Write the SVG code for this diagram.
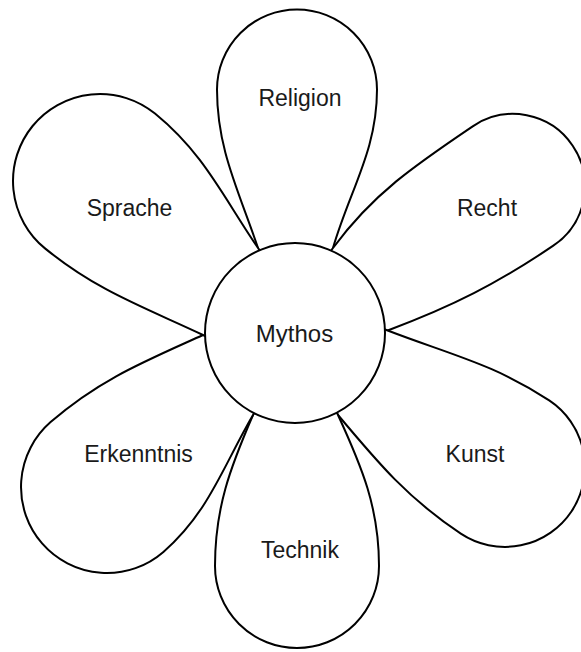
<svg xmlns="http://www.w3.org/2000/svg" width="581" height="652" viewBox="0 0 581 652">
  <style>
    .petal { fill: #ffffff; stroke: #000000; stroke-width: 2; stroke-linejoin: round; }
    .core { fill: #ffffff; stroke: #000000; stroke-width: 2; }
    .lbl { font-family: "Liberation Sans", Arial, Helvetica, sans-serif; font-size: 23px; fill: #1a1a1a; text-anchor: middle; }
    .main { font-size: 24px; }
  </style>
  <rect x="0" y="0" width="581" height="652" fill="#ffffff"/>
  <g id="petal-religion">
    <path class="petal" d="M261.8,259.4 L258,248 C238.8,191 217,149.5 217,89.5 A80,80 0 0 1 297,9.5 A80,80 0 0 1 377,89.5 C377,150.5 350.1,189.4 333,248 L329.6,259.5 Z"/>
    <text class="lbl" x="300" y="106">Religion</text>
  </g>
  <g id="petal-recht">
    <path class="petal" d="M325.9,257.7 L333,248 C373.3,193.2 416.3,164.4 472.7,126.3 A72,72 0 0 1 572.7,145.7 A72,72 0 0 1 553.3,245.7 C496.9,283.8 452.6,306.1 389,330 L377.8,334.2 Z"/>
    <text class="lbl" x="487" y="216">Recht</text>
  </g>
  <g id="petal-kunst">
    <path class="petal" d="M377.8,326.7 L389,331 C449.7,354.3 495.1,364.5 549.2,400.4 A80,80 0 0 1 571.6,511.2 A80,80 0 0 1 460.8,533.6 C408.3,498.8 378.4,463.3 338,415 L330.3,405.8 Z"/>
    <text class="lbl" x="475" y="462">Kunst</text>
  </g>
  <g id="petal-technik">
    <path class="petal" d="M333,404.1 L338,415 C362.2,467.7 379,508 379,566 A82,82 0 0 1 297,648 A82,82 0 0 1 215,566 C215,508 230,468.2 253,415 L257.8,404 Z"/>
    <text class="lbl" x="300" y="558">Technik</text>
  </g>
  <g id="petal-erkenntnis">
    <path class="petal" d="M259,404.6 L253,415 C222.8,466.8 208.7,512.5 163.4,551.9 A86,86 0 0 1 42.1,543.4 A86,86 0 0 1 50.6,422.1 C99.7,379.5 143.8,361.8 203,335 L213.9,330.1 Z"/>
    <text class="lbl" x="138.5" y="462">Erkenntnis</text>
  </g>
  <g id="petal-sprache">
    <path class="petal" d="M213.9,340.1 L203,335 C142.4,306.5 96.9,290.7 45,248.4 A87,87 0 0 1 32.6,126 A87,87 0 0 1 155,113.6 C203.8,153.4 222.5,195.9 258,248 L264.8,257.9 Z"/>
    <text class="lbl" x="129.5" y="216">Sprache</text>
  </g>
  <g id="node-mythos">
    <circle class="core" cx="295" cy="333" r="90"/>
    <text class="lbl main" x="294.5" y="342">Mythos</text>
  </g>
</svg>
